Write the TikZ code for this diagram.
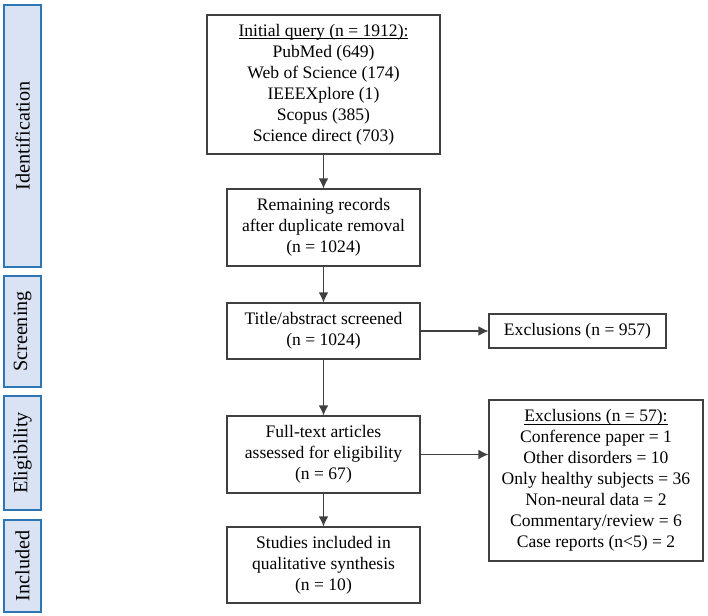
\documentclass[tikz,border=0pt]{standalone}
\usepackage{fontspec}
\setmainfont{Liberation Serif}
\usetikzlibrary{arrows.meta}
\definecolor{stagefill}{HTML}{DAE3F3}
\definecolor{stageline}{HTML}{2E75B6}
\newcommand{\uln}[1]{\setbox0\hbox{#1}\rlap{\vrule width\wd0 height -1.3pt depth 1.9pt}\box0}
\begin{document}
\begin{tikzpicture}[>={Latex[length=2mm,width=1.9mm]},x=0.02cm,y=-0.02cm,
    box/.style={draw=black!75,line width=0.6pt,align=center,inner sep=0pt,font=\fontsize{10}{12}\selectfont},
    stage/.style={draw=stageline,fill=stagefill,line width=0.8pt,rotate=90,inner sep=0pt,
      minimum height=0.74cm,font=\fontsize{11.5}{13}\selectfont},
    flow/.style={->,draw=black!75,line width=0.6pt}]
\useasboundingbox (0,0) rectangle (708,616);
% stages
\node[stage,minimum width=5.24cm] (ident) at (22.5,136){Identification};
\node[stage,minimum width=2.22cm] (scr) at (22.5,331.5){Screening};
\node[stage,minimum width=2.28cm] (elig) at (22.5,453){Eligibility};
\node[stage,minimum width=1.84cm] (incl) at (22.5,566){Included};
% main column
\node[box,minimum width=4.66cm,minimum height=2.78cm] (query) at (323.5,84.5)
  {\uln{Initial query (n = 1912):}\\PubMed (649)\\Web of Science (174)\\IEEEXplore (1)\\Scopus (385)\\Science direct (703)};
\node[box,minimum width=3.86cm,minimum height=1.54cm] (remain) at (323.5,227.5)
  {Remaining records\\after duplicate removal\\(n = 1024)};
\node[box,minimum width=3.86cm,minimum height=1.12cm] (screen) at (323.5,331)
  {Title/abstract screened\\(n = 1024)};
\node[box,minimum width=3.86cm,minimum height=1.54cm] (full) at (323.5,454.5)
  {Full-text articles\\assessed for eligibility\\(n = 67)};
\node[box,minimum width=3.86cm,minimum height=1.52cm] (study) at (323.5,565)
  {Studies included in\\qualitative synthesis\\(n = 10)};
% exclusions
\node[box,minimum width=3.54cm,minimum height=0.68cm] (exA) at (577.5,331){Exclusions (n = 957)};
\node[box,minimum width=4.28cm,minimum height=3.22cm] (exB) at (596,480.5)
  {\uln{Exclusions (n = 57):}\\Conference paper = 1\\Other disorders = 10\\Only healthy subjects = 36\\Non-neural data = 2\\Commentary/review = 6\\Case reports (n<5) = 2};
\draw[flow] (query)--(remain);
\draw[flow] (remain)--(screen);
\draw[flow] (screen)--(full);
\draw[flow] (full)--(study);
\draw[flow] (screen)--(exA);
\draw[flow] (full)--(full -| exB.west);
\end{tikzpicture}
\end{document}
